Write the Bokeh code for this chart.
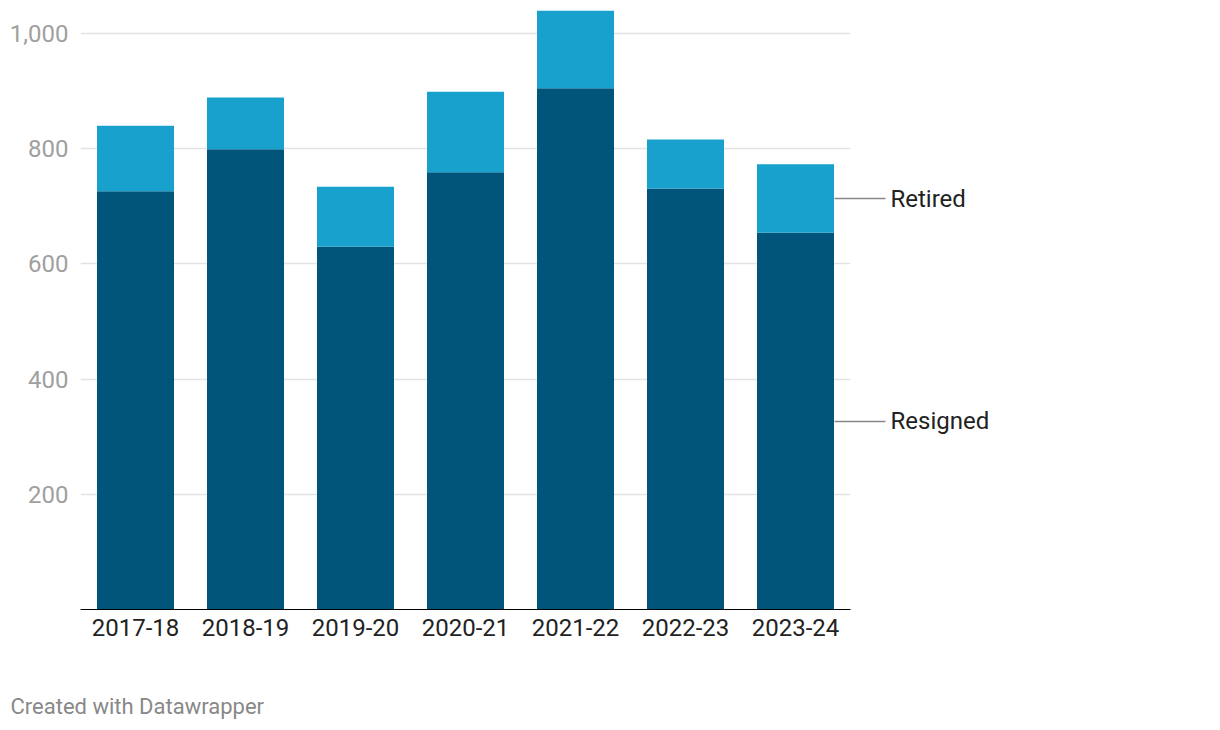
from bokeh.plotting import figure
from bokeh.models import (ColumnDataSource, Range1d, FixedTicker, NumeralTickFormatter,
                          LinearAxis, Title)
from bokeh.embed import file_html
from bokeh.resources import INLINE

years = ["2017-18", "2018-19", "2019-20", "2020-21", "2021-22", "2022-23", "2023-24"]
resigned = [726, 799, 630, 759, 905, 731, 654]
retired = [114, 90, 104, 140, 135, 85, 119]
y_ticks = [200, 400, 600, 800, 1000]
series_names = ["Resigned", "Retired"]

DARK = "#01547a"
LIGHT = "#18a1cd"
FONT = "Roboto"

xs = list(range(len(years)))
source = ColumnDataSource(dict(x=xs, resigned=resigned, retired=retired))

p = figure(frame_width=770, frame_height=599, output_backend="svg", toolbar_location=None,
           x_range=Range1d(-0.5, len(years) - 0.5), y_range=Range1d(0, 1040),
           min_border_left=80, min_border_right=354, min_border_top=10, min_border_bottom=0)
p.outline_line_color = None
p.background_fill_color = "white"
p.border_fill_color = "white"

p.vbar_stack(["resigned", "retired"], x="x", width=0.7, color=[DARK, LIGHT],
             line_color=None, source=source)

# x axis
p.xaxis.ticker = FixedTicker(ticks=xs)
p.xaxis.major_label_overrides = {i: y for i, y in enumerate(years)}
p.xaxis.axis_line_color = "#000000"
p.xaxis.axis_line_width = 1.2
p.xaxis.major_tick_line_color = None
p.xaxis.major_tick_out = 0
p.xaxis.major_tick_in = 0
p.xaxis.minor_tick_line_color = None
p.xaxis.major_label_text_font = FONT
p.xaxis.major_label_text_font_size = "24px"
p.xaxis.major_label_text_color = "#222222"
p.xaxis.major_label_standoff = 9

# y axis
p.yaxis.ticker = FixedTicker(ticks=y_ticks)
p.yaxis.formatter = NumeralTickFormatter(format="0,0")
p.yaxis.axis_line_color = None
p.yaxis.major_tick_line_color = None
p.yaxis.major_tick_out = 0
p.yaxis.major_tick_in = 0
p.yaxis.minor_tick_line_color = None
p.yaxis.major_label_text_font = FONT
p.yaxis.major_label_text_font_size = "24px"
p.yaxis.major_label_text_color = "#a0a0a0"
p.yaxis.major_label_standoff = 12

p.xgrid.grid_line_color = None
p.ygrid.ticker = FixedTicker(ticks=y_ticks)
p.ygrid.grid_line_color = "#e3e3e3"
p.ygrid.grid_line_width = 1.5

# series labels at the last bar, as a right-hand axis
last = len(years) - 1
y_res = resigned[last] / 2
y_ret = resigned[last] + retired[last] / 2
right = LinearAxis(ticker=FixedTicker(ticks=[y_res, y_ret]),
                   major_label_overrides={y_res: series_names[0], y_ret: series_names[1]})
right.axis_line_color = None
right.minor_tick_line_color = None
right.major_tick_in = 16
right.major_tick_out = 35
right.major_tick_line_color = "#888888"
right.major_tick_line_width = 1.5
right.major_label_standoff = 5
right.major_label_text_font = FONT
right.major_label_text_font_size = "24px"
right.major_label_text_color = "#222222"
p.add_layout(right, "right")

credit = Title(text="Created with Datawrapper", align="left", offset=-70, standoff=106,
               text_font=FONT, text_font_size="22px", text_font_style="normal",
               text_color="#888888")
p.add_layout(credit, "below")

open("out.html", "w").write(file_html(p, INLINE))
